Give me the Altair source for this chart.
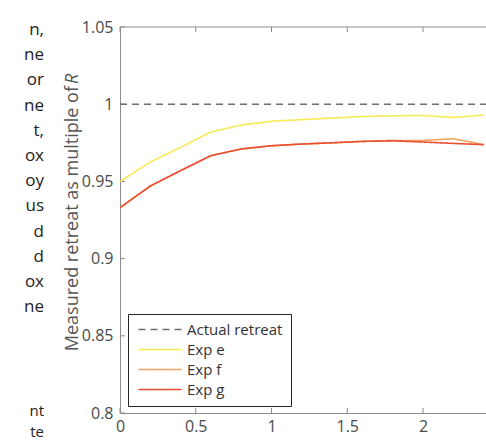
import altair as alt
import pandas as pd

# ---- data ----
x_vals = [0.0, 0.2, 0.4, 0.6, 0.8, 1.0, 1.2, 1.4, 1.6, 1.8, 2.0, 2.2, 2.4]
exp_e = [0.950, 0.9626, 0.972, 0.982, 0.9865, 0.989, 0.990, 0.991, 0.992, 0.9925, 0.9927, 0.9914, 0.993]
exp_f = [0.933, 0.947, 0.957, 0.9667, 0.971, 0.9731, 0.9742, 0.975, 0.9759, 0.9765, 0.9765, 0.9776, 0.9738]
exp_g = [0.933, 0.947, 0.957, 0.9667, 0.971, 0.9731, 0.9742, 0.975, 0.9759, 0.9763, 0.9755, 0.9746, 0.9738]
actual_x = [0.0, 3.0]
actual_y = [1.0, 1.0]

series_names = ["Actual retreat", "Exp e", "Exp f", "Exp g"]
series_colors = ["#707070", "#f7ea55", "#f2a35c", "#e94e33"]
series_dash = [[7, 5], [1, 0], [1, 0], [1, 0]]

y_ticks = [0.8, 0.85, 0.9, 0.95, 1.0, 1.05]
x_ticks = [0, 0.5, 1, 1.5, 2]

fragments_top = ["n,", "ne", "or", "ne", "t,", "ox", "oy", "us", "d", "d", "ox", "ne"]
fragments_bottom = ["nt", "te"]

rows = []
for xv, yv in zip(actual_x, actual_y):
    rows.append({"x": xv, "y": yv, "series": "Actual retreat"})
for name, ys in [("Exp e", exp_e), ("Exp f", exp_f), ("Exp g", exp_g)]:
    for xv, yv in zip(x_vals, ys):
        rows.append({"x": xv, "y": yv, "series": name})
df = pd.DataFrame(rows)

W, H = 366, 386
XMAX = W / 151.5
FONT = "Open Sans"

x_scale = alt.Scale(domain=[0, XMAX], nice=False, zero=False)
y_scale = alt.Scale(domain=[0.8, 1.05], nice=False, zero=False)

lines = alt.Chart(df).mark_line(strokeWidth=1.6, clip=True).encode(
    x=alt.X("x:Q", scale=x_scale,
            axis=alt.Axis(values=x_ticks, format="~g", title=None, grid=False,
                          tickSize=0, labelPadding=5, labelFontSize=16,
                          labelColor="#4a4a4a", labelFont=FONT,
                          domainColor="#8c8c8c", labelFlush=False)),
    y=alt.Y("y:Q", scale=y_scale,
            axis=alt.Axis(values=y_ticks, format=".2~f", title=None, grid=False,
                          tickSize=0, labelPadding=7, labelFontSize=16,
                          labelColor="#4a4a4a", labelFont=FONT,
                          domainColor="#8c8c8c", labelFlush=False)),
    color=alt.Color("series:N", title=None,
                    scale=alt.Scale(domain=series_names, range=series_colors),
                    legend=alt.Legend(orient="none", legendX=8, legendY=287,
                                      symbolType="M-1,0H7.6", symbolSize=100,
                                      symbolStrokeWidth=1.6, labelOffset=36,
                                      labelFontSize=15, labelFont=FONT,
                                      labelColor="#333333", padding=8,
                                      rowPadding=4, strokeColor="#262626",
                                      fillColor="white", cornerRadius=0)),
    strokeDash=alt.StrokeDash("series:N", title=None,
                              scale=alt.Scale(domain=series_names, range=series_dash)),
)

ytick_df = pd.DataFrame({"v": y_ticks})
xtick_df = pd.DataFrame({"v": x_ticks})

top_border = alt.Chart(pd.DataFrame({"v": [1.05]})).mark_rule(color="#8c8c8c", strokeWidth=1).encode(
    y=alt.Y("v:Q", scale=y_scale))
left_ticks = alt.Chart(ytick_df).mark_rule(color="#8c8c8c").encode(
    y=alt.Y("v:Q", scale=y_scale), x=alt.value(0), x2=alt.value(5))
bottom_ticks = alt.Chart(xtick_df).mark_rule(color="#8c8c8c").encode(
    x=alt.X("v:Q", scale=x_scale), y=alt.value(H), y2=alt.value(H - 5))
top_ticks = alt.Chart(xtick_df).mark_rule(color="#8c8c8c").encode(
    x=alt.X("v:Q", scale=x_scale), y=alt.value(0), y2=alt.value(5))

title_main = alt.Chart(pd.DataFrame({"t": ["Measured retreat as multiple of "]})).mark_text(
    angle=270, align="right", baseline="middle", fontSize=18, font=FONT, color="#555555"
).encode(text="t:N", x=alt.value(-47), y=alt.value(59))
title_r = alt.Chart(pd.DataFrame({"t": ["R"]})).mark_text(
    angle=270, align="left", baseline="middle", fontSize=18, font=FONT, color="#555555",
    fontStyle="italic"
).encode(text="t:N", x=alt.value(-47), y=alt.value(57))

frag1 = alt.Chart(pd.DataFrame({"t": ["\n".join(fragments_top)]})).mark_text(
    align="right", baseline="middle", fontSize=17, font=FONT, color="#222222",
    lineBreak="\n", lineHeight=25.2
).encode(text="t:N", x=alt.value(-76), y=alt.value(3))
frag2 = alt.Chart(pd.DataFrame({"t": ["\n".join(fragments_bottom)]})).mark_text(
    align="right", baseline="middle", fontSize=15, font=FONT, color="#222222",
    lineBreak="\n", lineHeight=21
).encode(text="t:N", x=alt.value(-76), y=alt.value(384))

chart = alt.layer(
    top_border, left_ticks, bottom_ticks, top_ticks, lines,
    title_main, title_r, frag1, frag2
).properties(
    width=W, height=H,
    autosize=alt.AutoSizeParams(type="none"),
    padding={"left": 120, "top": 27, "right": 0, "bottom": 29},
    background="white",
).configure_view(stroke=None)

chart.save("out.html", embed_options={"renderer": "svg", "actions": False})
